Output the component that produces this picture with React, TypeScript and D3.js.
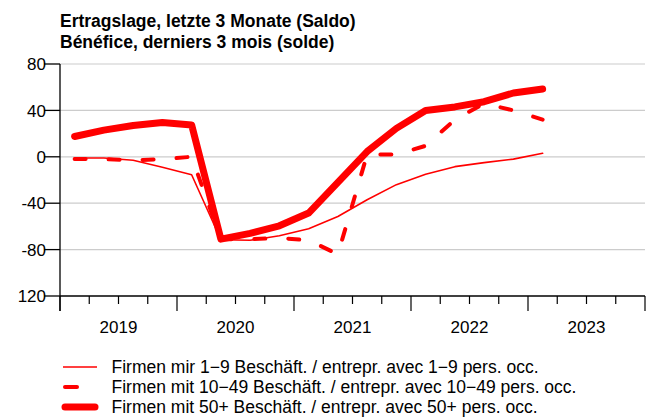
import React from "react";
import * as d3 from "d3";

const titleLines = ["Ertragslage, letzte 3 Monate (Saldo)", "Bénéfice, derniers 3 mois (solde)"];
const years = ["2019", "2020", "2021", "2022", "2023"];
const yTicks = [80, 40, 0, -40, -80, -120];
const yTickLabels = ["80", "40", "0", "-40", "-80", "120"];

// quarterly values 2019Q1 .. 2023Q1
const small = [-1, -1, -3, -9, -15.5, -71.5, -72, -68, -62, -51.5, -37, -24, -15, -8.5, -5, -2, 3];
const medium = [-2, -2, -3, -2, 0, -71, -71, -70, -72, -84, 2, 2, 9.5, 32, 46, 40, 32];
const large = [17.5, 23, 27, 29.5, 27.5, -71, -66, -59.5, -48.5, -22, 4.5, 24.5, 40, 43, 47.5, 55, 58.5];

const legendLabels = [
  "Firmen mir 1−9 Beschäft. / entrepr. avec 1−9 pers. occ.",
  "Firmen mit 10−49 Beschäft. / entrepr. avec 10−49 pers. occ.",
  "Firmen mit 50+ Beschäft. / entrepr. avec 50+ pers. occ.",
];

const W = 654;
const H = 417;
const left = 60;
const right = 645;
const top = 64;
const bottom = 296;

export default function App() {
  const x = d3.scaleLinear().domain([0, 20]).range([left, right]);
  const y = d3.scaleLinear().domain([-120, 80]).range([bottom, top]);
  const line = d3
    .line<number>()
    .x((_, i) => x(i + 0.5))
    .y((d) => y(d));

  const series = [
    { data: small, width: 1.6, dash: undefined as string | undefined },
    { data: medium, width: 4, dash: "11,23" },
    { data: large, width: 7, dash: undefined },
  ];

  const font = "'Liberation Sans', Arial, sans-serif";
  const quarterTicks = d3.range(0, 21);

  return (
    <div style={{ position: "absolute", left: 0, top: 0 }}>
      <svg width={W} height={H} style={{ display: "block", fontFamily: font }}>
        <rect width={W} height={H} fill="#fff" />
        {titleLines.map((t, i) => (
          <text key={i} x={left} y={26.5 + i * 21.5} fontSize={17.5} fontWeight="bold" fill="#000">
            {t}
          </text>
        ))}
        {/* gridlines */}
        {yTicks.slice(0, 5).map((v) => (
          <line key={v} x1={left} x2={right} y1={y(v)} y2={y(v)} stroke="#cccccc" strokeWidth={1.2} />
        ))}
        {/* y axis */}
        <line x1={left} x2={left} y1={y(80)} y2={bottom + 15} stroke="#000" strokeWidth={1.3} />
        {yTicks.map((v, i) => (
          <g key={v}>
            <line x1={left - 16} x2={left} y1={y(v)} y2={y(v)} stroke="#000" strokeWidth={1.3} />
            <text x={left - 14} y={y(v)} dy="0.36em" textAnchor="end" fontSize={17} fill="#000">
              {yTickLabels[i]}
            </text>
          </g>
        ))}
        {/* x axis */}
        <line x1={left} x2={right} y1={bottom} y2={bottom} stroke="#000" strokeWidth={1.3} />
        {quarterTicks.map((q) => (
          <line
            key={q}
            x1={x(q)}
            x2={x(q)}
            y1={bottom}
            y2={q % 4 === 0 ? bottom + 15 : bottom + 8}
            stroke="#000"
            strokeWidth={1.2}
          />
        ))}
        {years.map((yr, i) => (
          <text key={yr} x={x(i * 4 + 2)} y={333} textAnchor="middle" fontSize={17} fill="#000">
            {yr}
          </text>
        ))}
        {/* series */}
        {series.map((s, i) => (
          <path
            key={i}
            d={line(s.data) || ""}
            fill="none"
            stroke="#ff0000"
            strokeWidth={s.width}
            strokeDasharray={s.dash}
            strokeLinecap="round"
            strokeLinejoin="round"
          />
        ))}
        {/* legend */}
        {legendLabels.map((lab, i) => {
          const ly = 367 + i * 20;
          const s = series[i];
          return (
            <g key={i}>
              <line
                x1={i === 0 ? 63 : 65}
                x2={i === 0 ? 97 : i === 1 ? 77 : 95}
                y1={ly}
                y2={ly}
                stroke="#ff0000"
                strokeWidth={s.width}
                strokeLinecap={i === 0 ? "butt" : "round"}
              />
              <text x={111.5} y={ly + 6.3} fontSize={17.5} fill="#000">
                {lab}
              </text>
            </g>
          );
        })}
      </svg>
    </div>
  );
}
